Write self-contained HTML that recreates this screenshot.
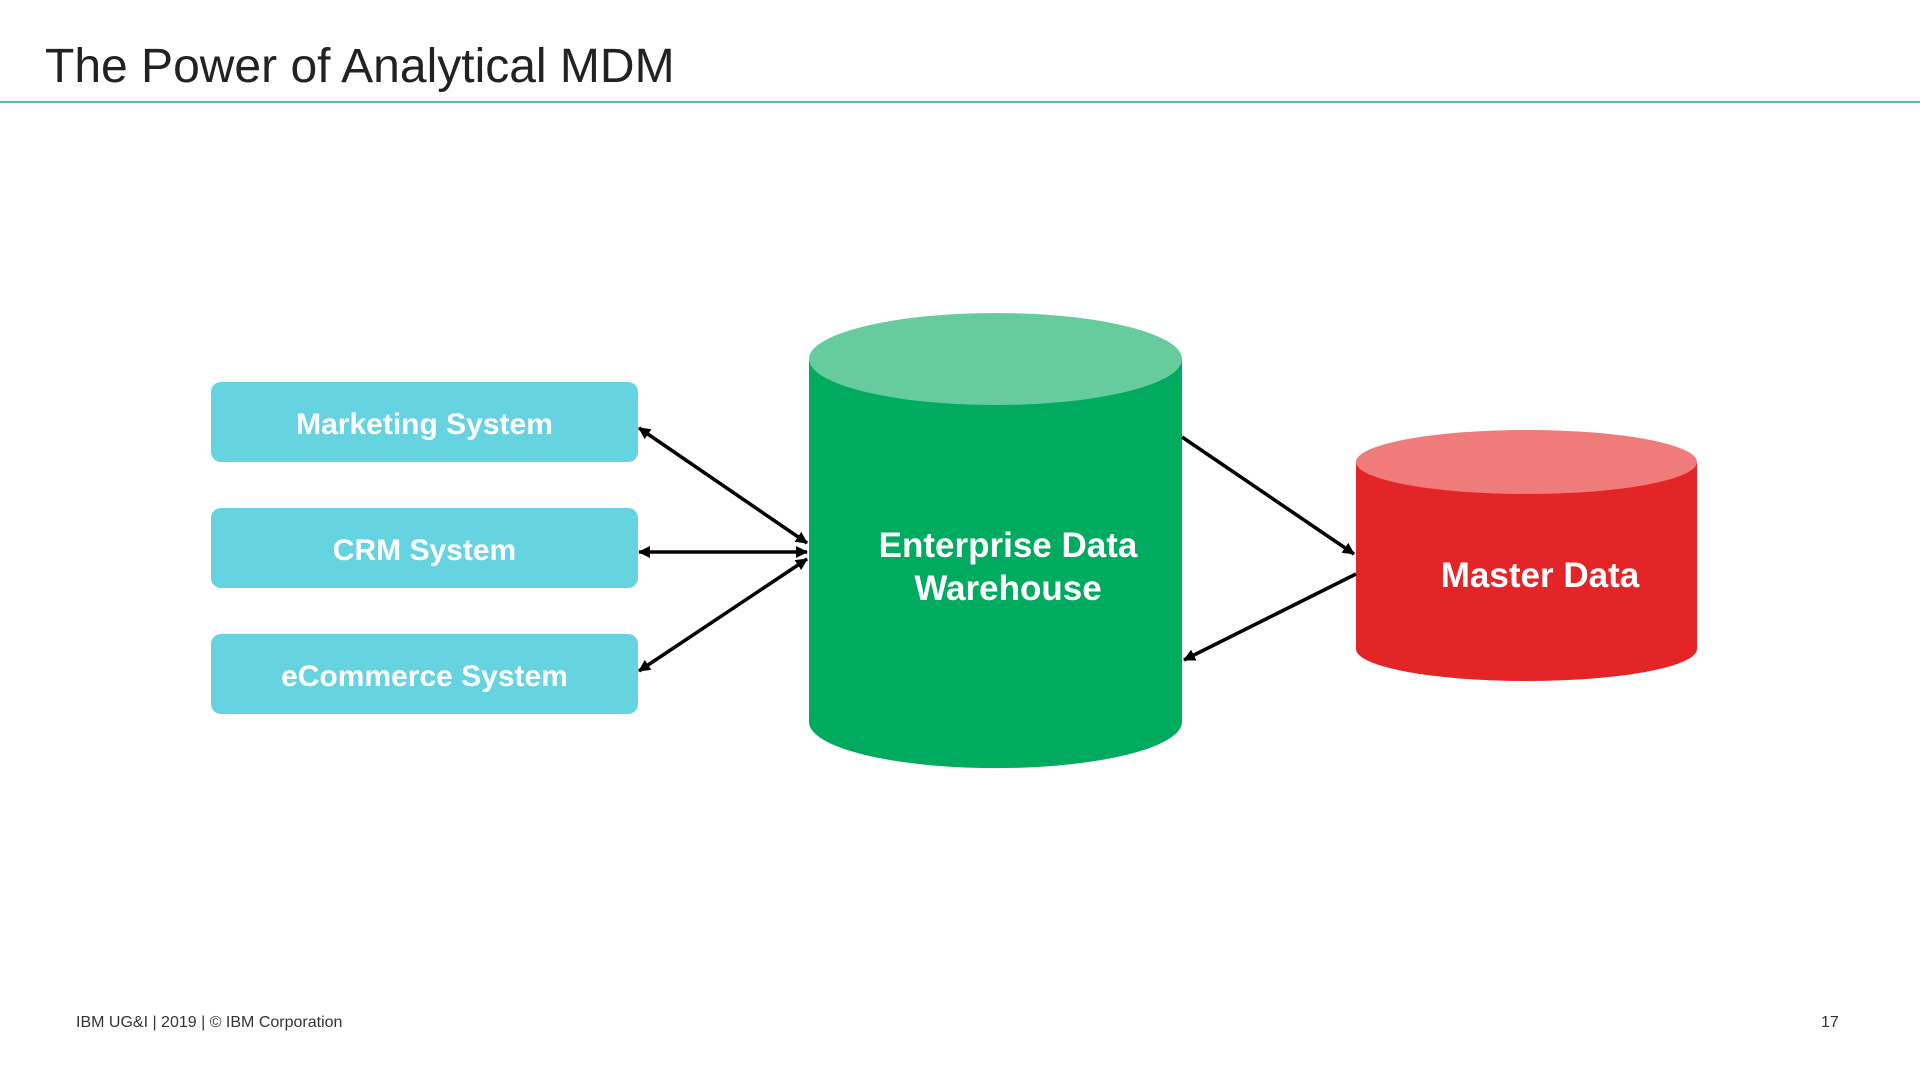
<!DOCTYPE html>
<html><head><style>
body{margin:0;width:1920px;height:1080px;background:#fff;overflow:hidden;font-family:"Liberation Sans",sans-serif;position:relative}
.t{position:absolute;left:45px;top:39px;font-size:48px;color:#222;white-space:nowrap}
.ln{position:absolute;left:0;top:101px;width:1920px;height:2px;background:#5fb8b4}
.b{position:absolute;left:211px;width:427px;height:80px;border-radius:10px;background:#66d3e0;color:#fff;font-weight:bold;font-size:30px;display:flex;align-items:center;justify-content:center;padding-top:5px;box-sizing:border-box}
.f{position:absolute;top:1014px;font-size:16px;color:#333}
</style></head><body>
<div class="t">The Power of Analytical MDM</div>
<div class="ln"></div>
<div class="b" style="top:382px">Marketing System</div>
<div class="b" style="top:508px">CRM System</div>
<div class="b" style="top:634px">eCommerce System</div>
<svg width="1920" height="1080" style="position:absolute;left:0;top:0">
<defs>
<marker id="a2" markerWidth="12" markerHeight="12" refX="11" refY="6" orient="auto-start-reverse" markerUnits="userSpaceOnUse"><path d="M0,0 L12,6 L0,12 z" fill="#000"/></marker></defs>
<path d="M809,359 V722 A186,46 0 0 0 1182,722 V359 Z" fill="#00aa5e"/>
<ellipse cx="995.5" cy="359" rx="186.5" ry="46" fill="#66cc9e"/>
<path d="M1356,462 V649 A170.5,32 0 0 0 1697,649 V462 Z" fill="#e42528"/>
<ellipse cx="1526.5" cy="462" rx="170.5" ry="32" fill="#ef7b7b"/>
<g stroke="#000" stroke-width="3.5" fill="none">
<line x1="639" y1="428" x2="807" y2="543" marker-start="url(#a2)" marker-end="url(#a2)"/>
<line x1="639" y1="552" x2="807" y2="552" marker-start="url(#a2)" marker-end="url(#a2)"/>
<line x1="639" y1="671" x2="807" y2="559" marker-start="url(#a2)" marker-end="url(#a2)"/>
<line x1="1182" y1="437" x2="1354" y2="554" marker-end="url(#a2)"/>
<line x1="1356" y1="574" x2="1184" y2="660" marker-end="url(#a2)"/>
</g>
<g fill="#fff" font-family="Liberation Sans, sans-serif" font-weight="bold" font-size="35" text-anchor="middle">
<text x="1008" y="557">Enterprise Data</text>
<text x="1008" y="600">Warehouse</text>
<text x="1540" y="587">Master Data</text>
</g>
</svg>
<div class="f" style="left:76px">IBM UG&amp;I | 2019 | © IBM Corporation</div>
<div class="f" style="left:1821px">17</div>
</body></html>
